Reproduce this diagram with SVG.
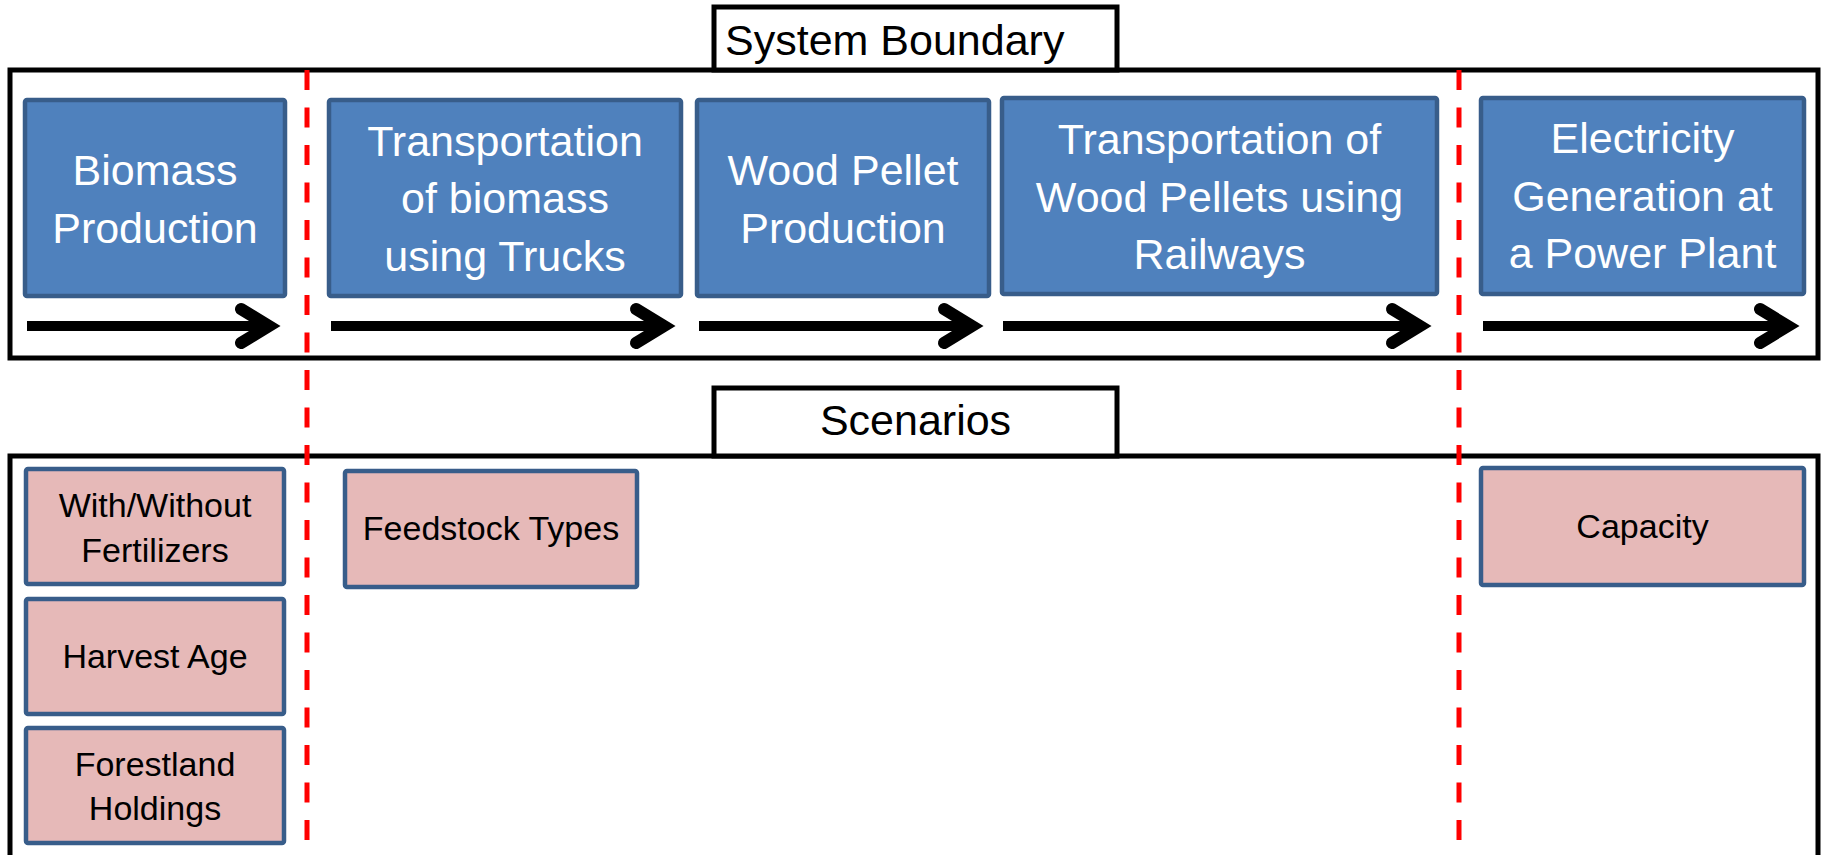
<svg xmlns="http://www.w3.org/2000/svg" width="1823" height="855" viewBox="0 0 1823 855">
<style>
.frame{fill:none;stroke:#000;stroke-width:5}
.label{fill:#fff;stroke:#000;stroke-width:5}
.proc{fill:#4F81BD;stroke:#385D8A;stroke-width:4.5}
.scen{fill:#E6B9B8;stroke:#385D8A;stroke-width:4.5}
.wt{font-family:"Liberation Sans",Arial,sans-serif;font-size:43px;fill:#fff;text-anchor:middle}
.bt{font-family:"Liberation Sans",Arial,sans-serif;font-size:43px;fill:#000}
.st{font-family:"Liberation Sans",Arial,sans-serif;font-size:34px;fill:#000;text-anchor:middle}
.shaft{stroke:#000;stroke-width:10;fill:none;marker-end:url(#chev)}
.bound{stroke:#FF0000;stroke-width:5;stroke-dasharray:20 17.5;fill:none}
</style>
<defs>
<marker id="chev" markerUnits="userSpaceOnUse" viewBox="-50 -30 70 60" markerWidth="70" markerHeight="60" refX="0" refY="0" orient="auto" overflow="visible">
<path d="M -28 -17 L 0 0 L -28 17" fill="none" stroke="#000" stroke-width="12" stroke-linecap="round" stroke-linejoin="miter" stroke-miterlimit="10"/>
</marker>
</defs>
<rect width="1823" height="855" fill="#fff"/>

<g id="system-boundary">
<rect class="frame" x="10" y="70" width="1808" height="288"/>
<rect class="label" x="714" y="7" width="403" height="63"/>
<text class="bt" x="725" y="55">System Boundary</text>
</g>

<g id="scenarios">
<rect class="frame" x="10" y="456" width="1808" height="430"/>
<rect class="label" x="714" y="388" width="403" height="68"/>
<text class="bt" x="915.5" y="435" text-anchor="middle">Scenarios</text>
</g>

<g id="biomass-production">
<rect class="proc" x="25" y="100" width="260" height="196" rx="2"/>
<text class="wt" x="155" y="185">Biomass</text>
<text class="wt" x="155" y="243">Production</text>
</g>
<g id="transport-trucks">
<rect class="proc" x="329" y="100" width="352" height="196" rx="2"/>
<text class="wt" x="505" y="156">Transportation</text>
<text class="wt" x="505" y="213">of biomass</text>
<text class="wt" x="505" y="271">using Trucks</text>
</g>
<g id="wood-pellet-production">
<rect class="proc" x="697" y="100" width="292" height="196" rx="2"/>
<text class="wt" x="843" y="185">Wood Pellet</text>
<text class="wt" x="843" y="243">Production</text>
</g>
<g id="transport-railways">
<rect class="proc" x="1002" y="98" width="435" height="196" rx="2"/>
<text class="wt" x="1219.5" y="154">Transportation of</text>
<text class="wt" x="1219.5" y="212">Wood Pellets using</text>
<text class="wt" x="1219.5" y="269">Railways</text>
</g>
<g id="electricity-generation">
<rect class="proc" x="1481" y="98" width="323" height="196" rx="2"/>
<text class="wt" x="1642.5" y="153">Electricity</text>
<text class="wt" x="1642.5" y="211">Generation at</text>
<text class="wt" x="1642.5" y="268">a Power Plant</text>
</g>

<g id="fertilizers">
<rect class="scen" x="26" y="469" width="258" height="115" rx="2"/>
<text class="st" x="155" y="517">With/Without</text>
<text class="st" x="155" y="562">Fertilizers</text>
</g>
<g id="harvest-age">
<rect class="scen" x="26" y="599" width="258" height="115" rx="2"/>
<text class="st" x="155" y="668">Harvest Age</text>
</g>
<g id="forestland-holdings">
<rect class="scen" x="26" y="728" width="258" height="115" rx="2"/>
<text class="st" x="155" y="776">Forestland</text>
<text class="st" x="155" y="820">Holdings</text>
</g>
<g id="feedstock-types">
<rect class="scen" x="345" y="471" width="292" height="116" rx="2"/>
<text class="st" x="491" y="540">Feedstock Types</text>
</g>
<g id="capacity">
<rect class="scen" x="1481" y="468" width="323" height="117" rx="2"/>
<text class="st" x="1642.5" y="538">Capacity</text>
</g>

<g id="connectors">
<line class="shaft" x1="27" y1="326" x2="269" y2="326"/>
<line class="shaft" x1="331" y1="326" x2="664" y2="326"/>
<line class="shaft" x1="699" y1="326" x2="972" y2="326"/>
<line class="shaft" x1="1003" y1="326" x2="1420" y2="326"/>
<line class="shaft" x1="1483" y1="326" x2="1788" y2="326"/>
<line class="bound" x1="307" y1="70" x2="307" y2="855"/>
<line class="bound" x1="1459" y1="70" x2="1459" y2="855"/>
</g>
</svg>
